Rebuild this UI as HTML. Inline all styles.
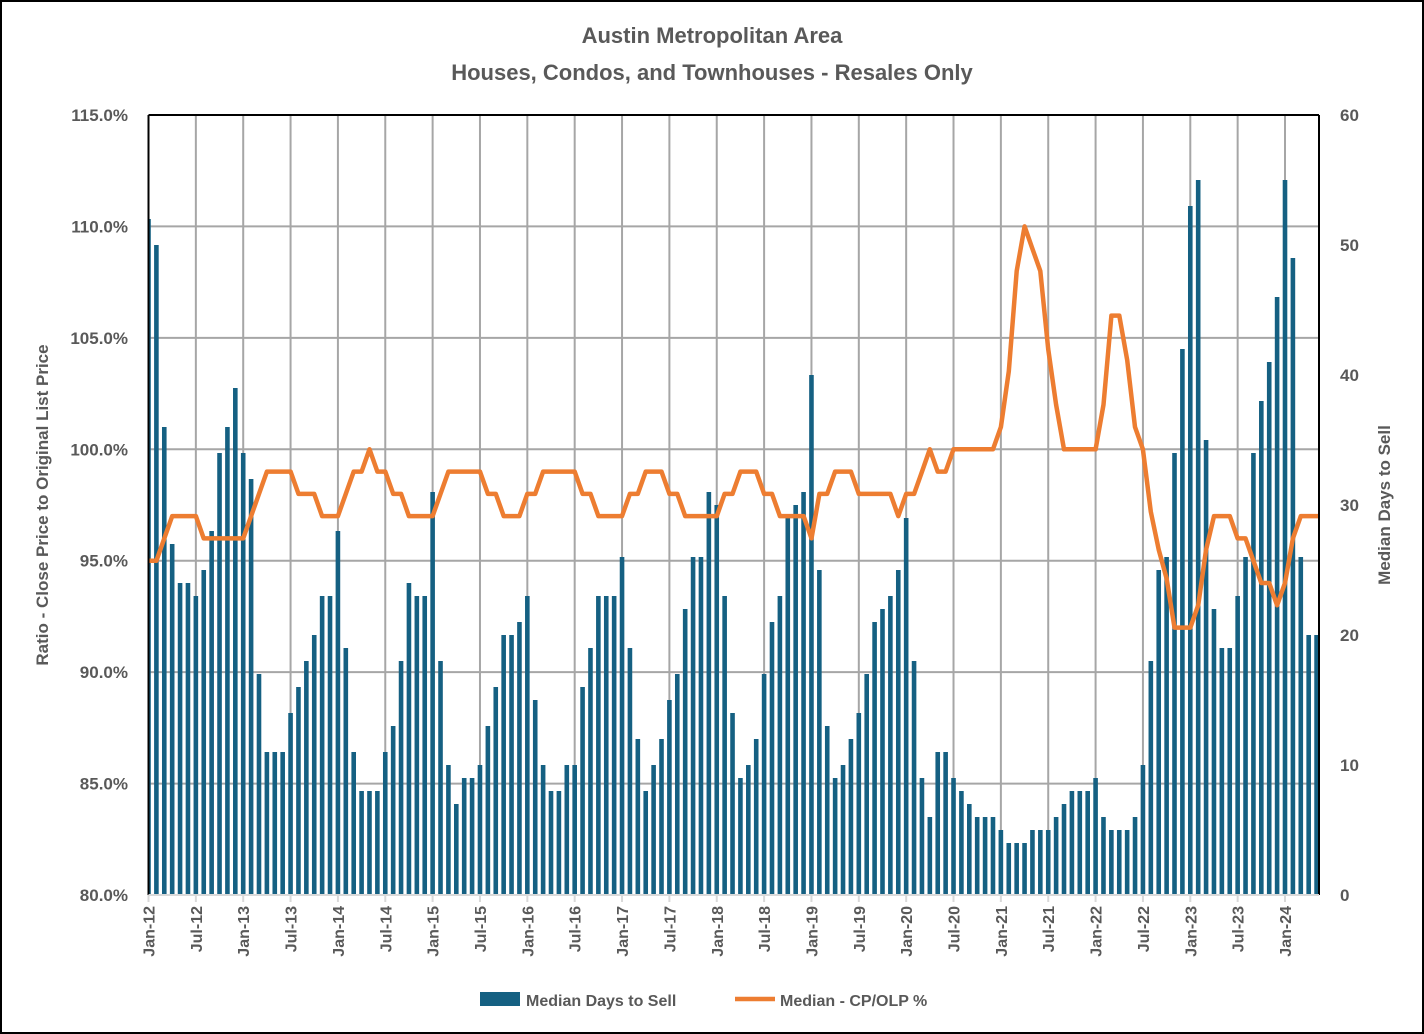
<!DOCTYPE html>
<html><head><meta charset="utf-8"><style>
html,body{margin:0;padding:0;background:#fff}
svg{display:block}
text{font-family:"Liberation Sans",sans-serif;fill:#595959;font-weight:bold}
</style></head><body>
<svg id="s" width="1424" height="1034" xmlns="http://www.w3.org/2000/svg"></svg>
<script>
const S=document.getElementById('s');
let h='';
h+='<rect x="1" y="1" width="1422" height="1032" fill="#fff" stroke="#000" stroke-width="2"/>';
h+='<text x="712" y="43" text-anchor="middle" font-size="22">Austin Metropolitan Area</text>';
h+='<text x="712" y="80" text-anchor="middle" font-size="22">Houses, Condos, and Townhouses - Resales Only</text>';
const L=148.5,R=1319,T=115,B=895,st=(1285-148.5)/144;
const yP=p=>B-(p-80)*(B-T)/35, yD=d=>B-d*(B-T)/60, xi=i=>L+i*st;
h+='<defs><clipPath id="c"><rect x="'+L+'" y="'+(T-10)+'" width="'+(R-L)+'" height="'+(B-T+10)+'"/></clipPath></defs>';
for(let k=1;k<7;k++){let y=yP(80+5*k);h+=`<line x1="${L}" x2="${R}" y1="${y}" y2="${y}" stroke="#a6a6a6" stroke-width="2"/>`;}
for(let i=0;i<=144;i+=6){let x=xi(i);if(i>0)h+=`<line x1="${x}" x2="${x}" y1="${T}" y2="${B}" stroke="#a6a6a6" stroke-width="2"/>`;
 h+=`<line x1="${x}" x2="${x}" y1="${B}" y2="${B+7}" stroke="#d9d9d9" stroke-width="2"/>`;
 let yr=12+Math.floor(i/12);let m=i%12==0?'Jan':'Jul';
 h+=`<text transform="translate(${x+6},${B+11}) rotate(-90)" text-anchor="end" font-size="16" font-weight="normal">${m}-${yr}</text>`;}
const D=[52,50,36,27,24,24,23,25,28,34,36,39,
34,32,17,11,11,11,14,16,18,20,23,23,
28,19,11,8,8,8,11,13,18,24,23,23,
31,18,10,7,9,9,10,13,16,20,20,21,
23,15,10,8,8,10,10,16,19,23,23,23,
26,19,12,8,10,12,15,17,22,26,26,31,
30,23,14,9,10,12,17,21,23,29,30,31,
40,25,13,9,10,12,14,17,21,22,23,25,
29,18,9,6,11,11,9,8,7,6,6,6,
5,4,4,4,5,5,5,6,7,8,8,8,
9,6,5,5,5,6,10,18,25,26,34,42,
53,55,35,22,19,19,23,26,34,38,41,46,
55,49,26,20,20];
const P=[95,95,96,97,97,97,97,96,96,96,96,96,
96,97,98,99,99,99,99,98,98,98,97,97,
97,98,99,99,100,99,99,98,98,97,97,97,
97,98,99,99,99,99,99,98,98,97,97,97,
98,98,99,99,99,99,99,98,98,97,97,97,
97,98,98,99,99,99,98,98,97,97,97,97,
97,98,98,99,99,99,98,98,97,97,97,97,
96,98,98,99,99,99,98,98,98,98,98,97,
98,98,99,100,99,99,100,100,100,100,100,100,
101,103.5,108,110,109,108,104.5,102,100,100,100,100,
100,102,106,106,104,101,100,97.2,95.5,94.2,92,92,
92,93,95.5,97,97,97,96,96,95,94,94,93,
94,96,97,97,97];
h+='<g clip-path="url(#c)">';
D.forEach((d,i)=>{let x=xi(i);h+=`<rect x="${x-2.3}" y="${yD(d)}" width="4.6" height="${B-yD(d)}" fill="#156082"/>`;});
let pts=P.map((p,i)=>xi(i).toFixed(1)+','+yP(p).toFixed(1));pts.push(R+','+yP(97).toFixed(1));
h+=`<polyline points="${pts.join(' ')}" fill="none" stroke="#ed7d31" stroke-width="4.5" stroke-linejoin="round"/>`;
h+='</g>';
h+=`<line x1="${L}" x2="${R}" y1="${T}" y2="${T}" stroke="#000" stroke-width="2"/>`;
h+=`<line x1="${L}" x2="${L}" y1="${T}" y2="${B}" stroke="#000" stroke-width="2"/>`;
h+=`<line x1="${R}" x2="${R}" y1="${T}" y2="${B}" stroke="#000" stroke-width="2"/>`;
h+=`<line x1="${L}" x2="${R}" y1="${B}" y2="${B}" stroke="#d9d9d9" stroke-width="2"/>`;
for(let k=0;k<8;k++){let p=80+5*k;h+=`<text x="128" y="${yP(p)+6}" text-anchor="end" font-size="17">${p.toFixed(1)}%</text>`;}
for(let k=0;k<7;k++){h+=`<text x="1340" y="${yD(10*k)+6}" text-anchor="start" font-size="17">${10*k}</text>`;}
h+=`<text transform="translate(48,505) rotate(-90)" text-anchor="middle" font-size="17">Ratio - Close Price to Original List Price</text>`;
h+=`<text transform="translate(1390,505) rotate(-90)" text-anchor="middle" font-size="17">Median Days to Sell</text>`;
h+='<rect x="480" y="992" width="40" height="14" fill="#156082"/>';
h+='<text x="526" y="1006" font-size="16">Median Days to Sell</text>';
h+='<line x1="735" x2="775" y1="999" y2="999" stroke="#ed7d31" stroke-width="4.5"/>';
h+='<text x="780" y="1006" font-size="16">Median - CP/OLP %</text>';
S.innerHTML=h;
</script>
</body></html>
